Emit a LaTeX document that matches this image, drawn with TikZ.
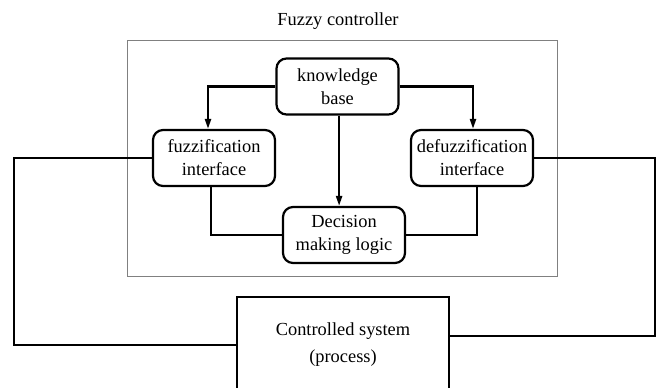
\documentclass[tikz,border=0pt]{standalone}
\usepackage{fontspec}
\setmainfont{Liberation Serif}
\usetikzlibrary{arrows.meta}

\tikzset{
	blk/.style={draw, line width=1.1pt, rounded corners=5pt, align=center, inner sep=0pt,
		minimum width=61pt, minimum height=28pt, font=\fontsize{9.2}{11.5}\selectfont},
	conn/.style={line width=1.1pt},
	tip/.style={-{Triangle[length=5pt,width=3pt]}},
}

\begin{document}
\begin{tikzpicture}[x=0.5pt, y=-0.5pt]
	\useasboundingbox (0,0) rectangle (662,387);
	\clip (0,0) rectangle (662,387);
	\node[font=\fontsize{9.2}{11.5}\selectfont] (title) at (338,21) {Fuzzy controller};
	\draw[gray, line width=0.5pt] (127,40) rectangle (557,276);
	\node[blk] (kb) at (337.5,86.5) {knowledge\\base};
	\node[blk] (fuzz) at (214,158) {fuzzification\\interface};
	\node[blk] (defuzz) at (472,158) {defuzzification\\interface};
	\node[blk, minimum height=28pt] (dec) at (344,235) {Decision\\making logic};
	\node[draw, line width=1.1pt, align=center, inner sep=0pt, minimum width=106pt, minimum height=48pt,
		font=\fontsize{9.2}{13.5}\selectfont] (sys) at (343,345) {Controlled system\\(process)};
	\draw[conn, tip] (kb.west) -| ([xshift=-3pt]fuzz.north);
	\draw[conn, tip] (kb.east) -| ([xshift=0.5pt]defuzz.north);
	\draw[conn, tip] ([xshift=0.8pt]kb.south) -- ([xshift=0.8pt]kb.south |- dec.north);
	\draw[conn] ([xshift=-1.5pt]fuzz.south) |- (dec.west);
	\draw[conn] ([xshift=2.5pt]defuzz.south) |- (dec.east);
	\draw[conn] (fuzz.west) -- ++(-138,0) |- (sys.west);
	\draw[conn] (defuzz.east) -- ++(121,0) |- ([yshift=4.5pt]sys.east);
\end{tikzpicture}
\end{document}
